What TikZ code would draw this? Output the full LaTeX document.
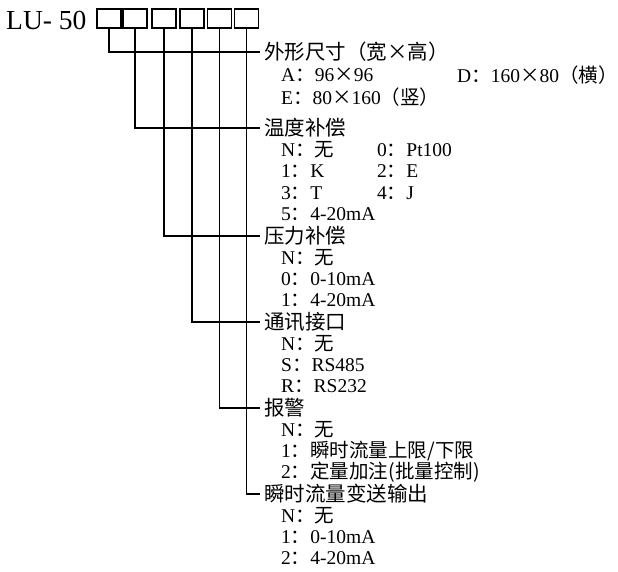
\documentclass[tikz,border=0pt]{standalone}
\usepackage{fontspec}
\setmainfont{Liberation Serif}
\newfontfamily\cjk{Noto Sans CJK SC}
\usepackage{tikz}
\usetikzlibrary{positioning}

\begin{document}
\begin{tikzpicture}[x=1pt, y=-1pt,
    codebox/.style={rectangle, draw, line width=1.6pt, minimum width=24pt, minimum height=19pt, inner sep=0pt},
    branch/.style={line width=1.6pt},
    head/.style={anchor=west, inner xsep=4pt, inner ysep=0pt, font=\fontsize{20.5}{20.5}\selectfont\cjk},
    item/.style={anchor=west, inner sep=0pt, font=\fontsize{19.5}{19.5}\selectfont}]

    \useasboundingbox (0,0) rectangle (618,571);

    % Model code
    \node[anchor=base west, inner sep=0pt, font=\fontsize{27.5}{27.5}\selectfont] (model) at (6,29) {LU- 50};
    \node[codebox] (b1) at (109,18.5) {};
    \node[codebox] (b2) at (135,18.5) {};
    \node[codebox] (b3) at (164,18.5) {};
    \node[codebox] (b4) at (192,18.5) {};
    \node[codebox] (b5) at (219.5,18.5) {};
    \node[codebox] (b6) at (246.5,18.5) {};

    % Option headings
    \node[head] (size) at (260,52) {外形尺寸（宽×高）};
    \node[head] (temp) at (260,128) {温度补偿};
    \node[head] (press) at (260,236) {压力补偿};
    \node[head] (comm) at (260,322) {通讯接口};
    \node[head] (alarm) at (260,408) {报警};
    \node[head] (out) at (260,494) {瞬时流量变送输出};

    % Size options
    \node[item] (sizeA) at (281,75) {A{\cjk：}96{\cjk×}96};
    \node[item] (sizeD) at (457,75) {D{\cjk：}160{\cjk×}80{\cjk（横）}};
    \node[item] (sizeE) at (281,97) {E{\cjk：}80{\cjk×}160{\cjk（竖）}};

    % Temperature options
    \node[item] (tempN) at (281,150) {N{\cjk：无}};
    \node[item] (temp0) at (377,150) {0{\cjk：}Pt100};
    \node[item] (temp1) at (281,171.5) {1{\cjk：}K};
    \node[item] (temp2) at (377,171.5) {2{\cjk：}E};
    \node[item] (temp3) at (281,193) {3{\cjk：}T};
    \node[item] (temp4) at (377,193) {4{\cjk：}J};
    \node[item] (temp5) at (281,214.5) {5{\cjk：}4-20mA};

    % Pressure options
    \node[item] (pressN) at (281,257.5) {N{\cjk：无}};
    \node[item] (press0) at (281,279) {0{\cjk：}0-10mA};
    \node[item] (press1) at (281,300.5) {1{\cjk：}4-20mA};

    % Interface options
    \node[item] (commN) at (281,343.5) {N{\cjk：无}};
    \node[item] (commS) at (281,365) {S{\cjk：}RS485};
    \node[item] (commR) at (281,386.5) {R{\cjk：}RS232};

    % Alarm options
    \node[item] (alarmN) at (281,429.5) {N{\cjk：无}};
    \node[item] (alarm1) at (281,451) {1{\cjk：瞬时流量上限/下限}};
    \node[item] (alarm2) at (281,472.5) {2{\cjk：定量加注(批量控制)}};

    % Output options
    \node[item] (outN) at (281,515.5) {N{\cjk：无}};
    \node[item] (out1) at (281,537) {1{\cjk：}0-10mA};
    \node[item] (out2) at (281,558.5) {2{\cjk：}4-20mA};

    % Branches
    \draw[branch] (b1.south) |- (size.west);
    \draw[branch] (b2.south) |- (temp.west);
    \draw[branch] (b3.south) |- (press.west);
    \draw[branch] (b4.south) |- (comm.west);
    \draw[branch] (b5.south) |- (alarm.west);
    \draw[branch] (b6.south) |- (out.west);
\end{tikzpicture}
\end{document}
